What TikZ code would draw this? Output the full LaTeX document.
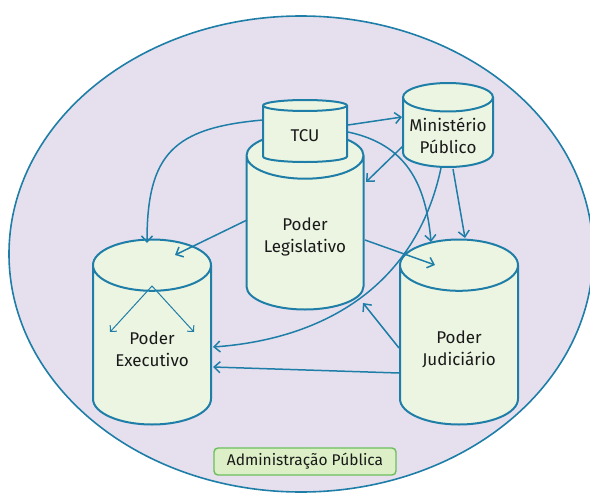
\documentclass[tikz,border=0pt]{standalone}
\usepackage{fontspec}
\setmainfont{Fira Sans}
\usetikzlibrary{shapes.geometric, arrows.meta}
\definecolor{rim}{HTML}{1F7EA8}
\definecolor{bodyfill}{HTML}{ECF5E2}
\definecolor{adminfill}{HTML}{E6E0EE}
\definecolor{tagfill}{HTML}{DCEFC6}
\definecolor{tagrim}{HTML}{6CBE5C}
\tikzstyle{power} = [cylinder, shape border rotate=90, anchor=shape center, draw=rim, line width=2pt, fill=bodyfill, align=center, text=black!90, font=\fontsize{17}{22}\selectfont]
\tikzstyle{tag} = [rectangle, rounded corners=4pt, draw=tagrim, line width=1.4pt, fill=tagfill, text=black!90, font=\fontsize{15.5}{19}\selectfont, minimum width=182, minimum height=27]
\tikzstyle{arrow} = [draw=rim, line width=1.5pt, -{Straight Barb[length=6pt,width=11pt]}]
\tikzstyle{thinarrow} = [draw=rim, line width=1pt, {Straight Barb[length=4.5pt,width=9pt]}-{Straight Barb[length=4.5pt,width=9pt]}]

\begin{document}
\begin{tikzpicture}[x=1pt, y=-1pt]
	\useasboundingbox (0,0) rectangle (590,498);
	\begin{scope}
		\clip (0,0) rectangle (590,498);
		\filldraw [draw=rim, line width=1.6pt, fill=adminfill] (301,254) ellipse [x radius=292, y radius=238];
	\end{scope}

	\node (legis) [power, minimum width=117, minimum height=177, aspect=0.52] at (305,221) {Poder\\Legislativo};
	\node (tcu) [power, minimum width=84, minimum height=62, aspect=0.31] at (305,131) {TCU};
	\node (mp) [power, minimum width=90, minimum height=84, aspect=0.34] at (448,125) {Ministério\\Público};
	\node (exec) [power, minimum width=118, minimum height=185, aspect=0.64] at (152,332) {Poder\\Executivo};
	\node (jud) [power, minimum width=118, minimum height=185, aspect=0.64] at (459,332) {Poder\\Judiciário};
	\node (adm) [tag] at (305,461.5) {Administração Pública};

	\draw [arrow] ([shift={(-42,-11)}]tcu.shape center) to[out=185, in=90, looseness=1.35] ([shift={(-5,-89)}]exec.shape center);
	\draw [arrow] ([shift={(43,-6)}]tcu.shape center) -- ([shift={(-46,-8)}]mp.shape center);
	\draw [arrow] ([shift={(43,1)}]tcu.shape center) to[out=-12, in=95, looseness=1.1] ([shift={(-28,-90)}]jud.shape center);

	\draw [arrow] ([shift={(-45,21)}]mp.shape center) -- ([shift={(61,-39)}]legis.shape center);
	\draw [arrow] ([shift={(-7,43)}]mp.shape center) to[out=258, in=4, out looseness=1.1, in looseness=0.94] ([shift={(61,15)}]exec.shape center);
	\draw [arrow] ([shift={(5,44)}]mp.shape center) -- ([shift={(6,-94)}]jud.shape center);

	\draw [arrow] ([shift={(-58,-1)}]legis.shape center) -- ([shift={(23,-77)}]exec.shape center);
	\draw [arrow] ([shift={(60,19)}]legis.shape center) -- ([shift={(-24,-67)}]jud.shape center);

	\draw [arrow] ([shift={(-60,16)}]jud.shape center) -- ([shift={(58,82)}]legis.shape center);
	\draw [arrow] ([shift={(-60,41)}]jud.shape center) -- ([shift={(61,35)}]exec.shape center);

	\draw [thinarrow] ([shift={(-42,0)}]exec.shape center) -- ([shift={(0,-46)}]exec.shape center) -- ([shift={(42,0)}]exec.shape center);
\end{tikzpicture}
\end{document}
